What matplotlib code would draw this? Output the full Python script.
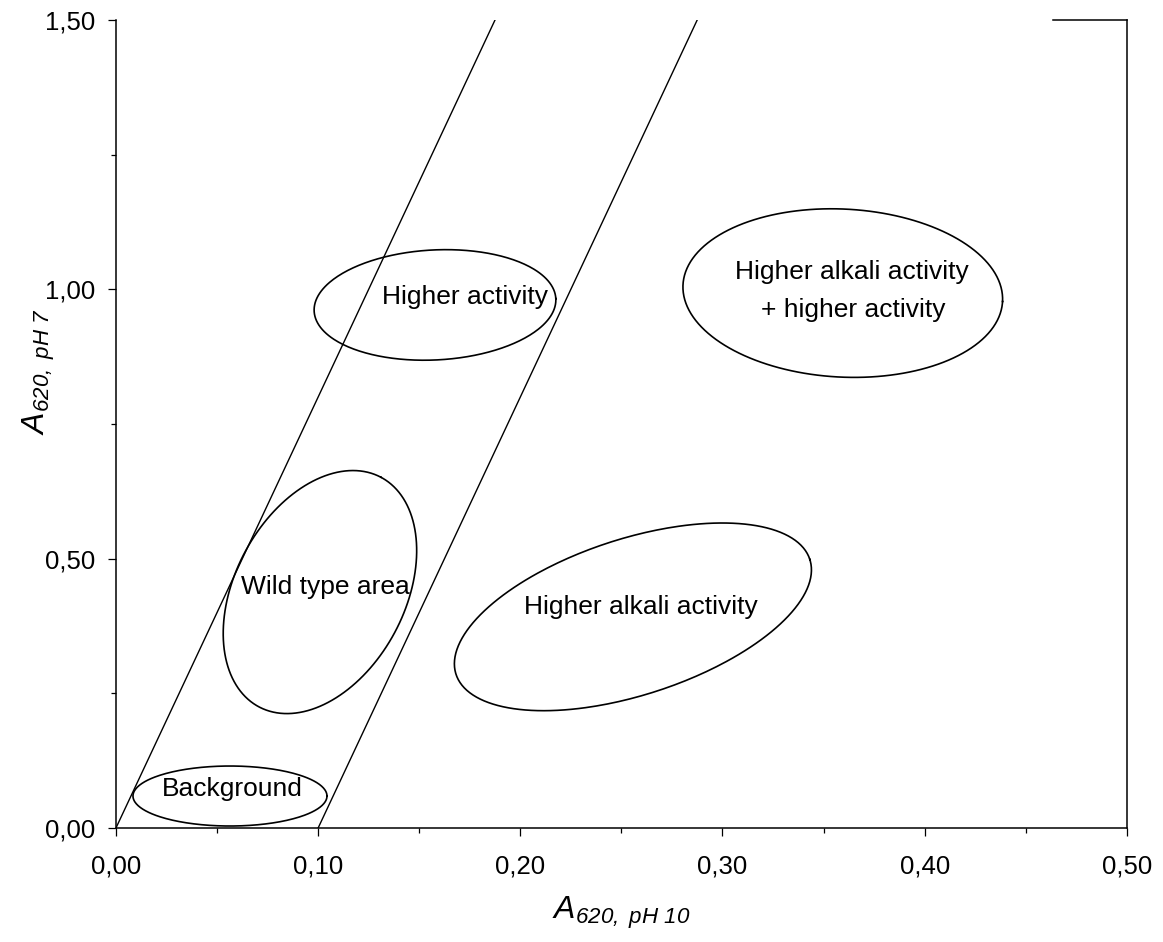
import numpy as np
import matplotlib
matplotlib.use('Agg')
import matplotlib.pyplot as plt
from matplotlib.ticker import MultipleLocator, FuncFormatter

plt.rcParams['font.family'] = ['Liberation Sans', 'DejaVu Sans']
plt.rcParams['mathtext.fontset'] = 'custom'
# axis titles are fully italic, so rm is mapped to the italic face
plt.rcParams['mathtext.rm'] = 'Liberation Sans:italic'
plt.rcParams['mathtext.it'] = 'Liberation Sans:italic'

# ---------------- data ----------------
# boundary lines of the "wild type" band: y = slope * (x - x0)
band_slope = 8.0
band_x0 = [0.0, 0.1]

# regions (ellipses) in data coords
region_names = ['Background', 'Higher activity', 'Wild type area',
                'Higher alkali activity', 'Higher alkali activity + higher activity']
region_cx = [0.0564, 0.1578, 0.1009, 0.2557, 0.3595]
region_cy = [0.0594, 0.971, 0.438, 0.392, 0.993]

# text labels
label_text = ['Background', 'Higher activity', 'Wild type area', 'Higher alkali activity',
              'Higher alkali activity', '+ higher activity']
label_x = [0.0577, 0.1725, 0.1035, 0.2598, 0.3638, 0.3648]
label_y = [0.072, 0.985, 0.447, 0.411, 1.032, 0.962]

# ---------------- figure ----------------
fig = plt.figure(figsize=(11.63, 9.42), dpi=100)
ax = fig.add_axes([0.0997, 0.121, 0.8692, 0.8578])
ax.set_xlim(0, 0.5)
ax.set_ylim(0, 1.5)

# pixels per data unit (for drawing ellipses in screen space)
sx = 0.8692 * 1163 / 0.5
sy = 0.8578 * 942 / 1.5

# shapes in pixels: semi-major, semi-minor, angle (deg, ccw)
shapes = [(97, 30, 0), (121, 55, 3), (130, 85, 62), (186, 78, 18), (160, 84, -3)]

for cx, cy, (a, b, ang) in zip(region_cx, region_cy, shapes):
    t = np.linspace(0, 2 * np.pi, 300)
    th = np.radians(ang)
    u = a * np.cos(t)
    v = b * np.sin(t)
    xs = cx + (u * np.cos(th) - v * np.sin(th)) / sx
    ys = cy + (u * np.sin(th) + v * np.cos(th)) / sy
    ax.plot(xs, ys, color='black', lw=1.2, clip_on=False)

for x0 in band_x0:
    xx = np.array([x0, x0 + 1.5 / band_slope])
    ax.plot(xx, band_slope * (xx - x0), color='black', lw=1.0)

for s, x, y in zip(label_text, label_x, label_y):
    ax.text(x, y, s, ha='center', va='center', fontsize=19)

# ---------------- axes styling ----------------
fmt = FuncFormatter(lambda v, p: ('%.2f' % v).replace('.', ','))
ax.xaxis.set_major_locator(MultipleLocator(0.1))
ax.xaxis.set_minor_locator(MultipleLocator(0.05))
ax.yaxis.set_major_locator(MultipleLocator(0.5))
ax.yaxis.set_minor_locator(MultipleLocator(0.25))
ax.xaxis.set_major_formatter(fmt)
ax.yaxis.set_major_formatter(fmt)
ax.tick_params(which='major', direction='out', length=6, width=0.9, labelsize=18.5, pad=13)
ax.tick_params(which='minor', direction='out', length=3.5, width=0.9)
ax.tick_params(axis='y', which='major', pad=9)

for sp in ax.spines.values():
    sp.set_linewidth(1.1)
ax.spines['top'].set_bounds(0.4634, 0.5)

ax.set_xlabel(r'$\mathrm{A}_{\mathrm{620,\ pH\ 10}}$', fontsize=23, labelpad=12)
ax.set_ylabel(r'$\mathrm{A}_{\mathrm{620,\ pH\ 7}}$', fontsize=23)
ax.yaxis.set_label_coords(-0.058, 0.565)

fig.savefig('out.png', dpi=100)
